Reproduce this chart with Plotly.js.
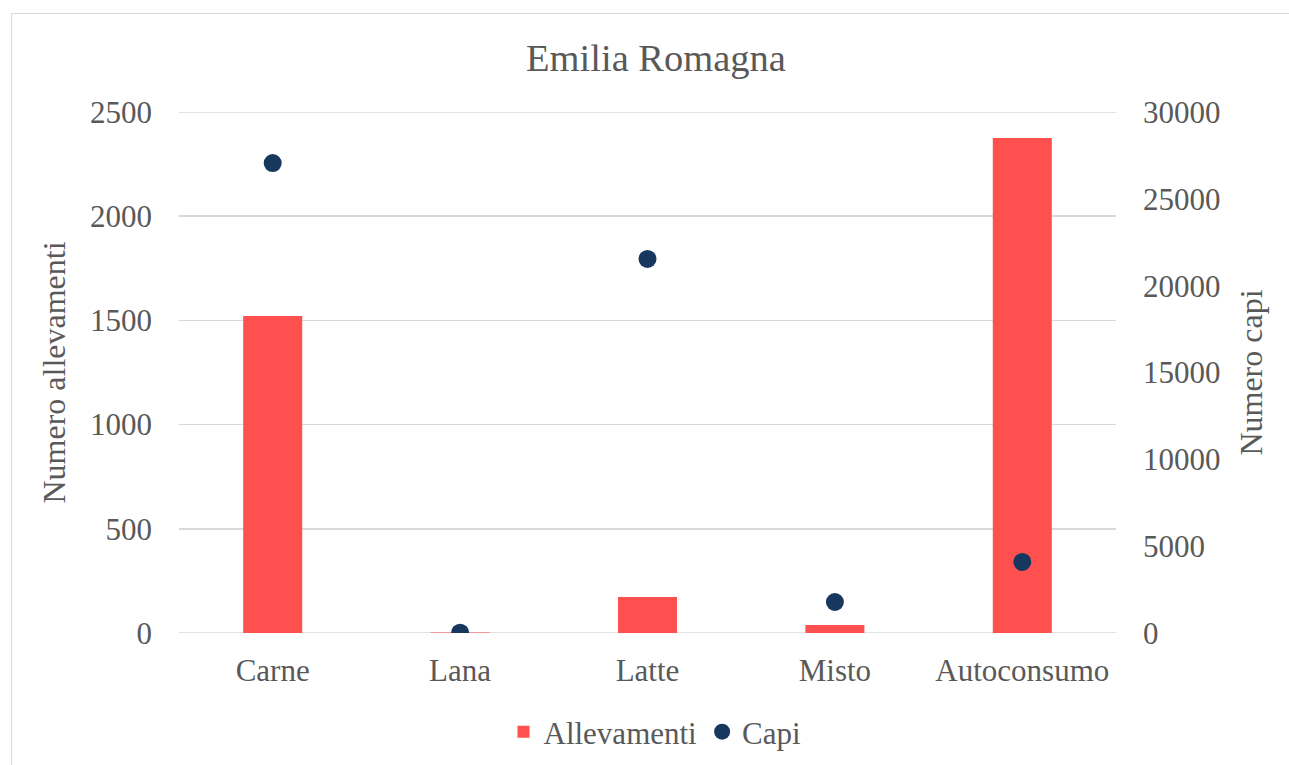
<!DOCTYPE html>
<html><head><meta charset="utf-8">
<script src="https://cdn.plot.ly/plotly-3.0.1.min.js"></script>
<style>
html,body{margin:0;padding:0;background:#fff;}
#wrap{position:relative;width:1289px;height:765px;overflow:hidden;}
#chart{position:absolute;left:0;top:0;width:1289px;height:765px;}
#frame{position:absolute;left:11px;top:13px;width:1300px;height:800px;border:1px solid #d9d9d9;pointer-events:none;}
</style></head>
<body><div id="wrap"><div id="chart"></div><div id="frame"></div></div>
<script>
const categories = ["Carne", "Lana", "Latte", "Misto", "Autoconsumo"];
const allevamenti = [1521, 2, 173, 38, 2375];
const capi = [27060, 20, 21540, 1785, 4090];
const leftTicks = [0, 500, 1000, 1500, 2000, 2500];
const rightTicks = [0, 5000, 10000, 15000, 20000, 25000, 30000];

const txt = "#595959";
const fam = "Liberation Serif, Times New Roman, serif";

const data = [
  {type: "bar", name: "Allevamenti", x: categories, y: allevamenti,
   marker: {color: "#FF5050"}, yaxis: "y"},
  {type: "scatter", mode: "markers", name: "Capi", x: categories, y: capi,
   marker: {color: "#17375E", size: 18}, yaxis: "y2"}
];

// gridlines at the range edges (Plotly drops them at the boundaries)
const edgeShapes = [leftTicks[0], leftTicks[leftTicks.length - 1]].map(v => ({
  type: "line", xref: "paper", x0: 0, x1: 1, yref: "y", y0: v, y1: v,
  line: {color: "#d9d9d9", width: 1.5}, layer: "below"
}));

const layout = {
  width: 1289, height: 765,
  margin: {l: 179, r: 173, t: 112, b: 132},
  paper_bgcolor: "#fff", plot_bgcolor: "#fff",
  font: {family: fam, color: txt, size: 31},
  title: {text: "Emilia Romagna", font: {size: 38.5, color: txt, family: fam},
          x: 656/1289, xanchor: "center", y: 1 - 58/765, yanchor: "middle", yref: "container"},
  bargap: 0.685,
  showlegend: true,
  legend: {orientation: "h", x: 0.508, xanchor: "center", y: 1 - 732/765, yanchor: "middle",
           yref: "container", font: {size: 31, color: txt}, itemwidth: 30, traceorder: "normal"},
  shapes: edgeShapes,
  xaxis: {type: "category", showgrid: false, zeroline: false, showline: false,
          ticks: "", ticklabelstandoff: 16, tickfont: {size: 31, color: txt}},
  yaxis: {range: [0, 2500], tickvals: leftTicks, showgrid: true, gridcolor: "#d9d9d9", gridwidth: 1.5,
          zeroline: false, ticks: "", ticklabelstandoff: 26, tickfont: {size: 31, color: txt},
          title: {text: "Numero allevamenti", font: {size: 32, color: txt}, standoff: 14}},
  yaxis2: {range: [0, 30000], tickvals: rightTicks, tickformat: "d", overlaying: "y", side: "right",
           showgrid: false, zeroline: false, ticks: "", ticklabelstandoff: 26,
           tickfont: {size: 31, color: txt},
           title: {text: "Numero capi", font: {size: 32, color: txt}, standoff: 20}}
};

Plotly.newPlot("chart", data, layout, {displayModeBar: false, staticPlot: true});
</script>
</body></html>
